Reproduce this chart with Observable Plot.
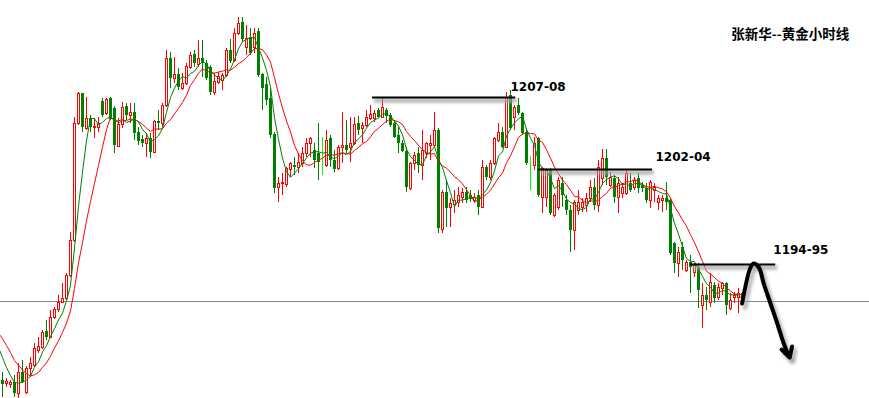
<!DOCTYPE html>
<html><head><meta charset="utf-8">
<script src="https://cdn.jsdelivr.net/npm/d3@7"></script>
<script src="https://cdn.jsdelivr.net/npm/@observablehq/plot@0.6"></script>
<style>html,body{margin:0;padding:0;background:#fff;overflow:hidden}</style>
</head><body><div id="chart"></div>
<script>
// Hourly gold candles (price units)
const open = [
1181.5,1181.2,1181.1,1181.3,1180.2,1182.3,1180.3,1182.7,1183.0,1184.5,
1184.8,1186.4,1185.8,1187.8,1188.6,1189.3,1189.7,1192.0,1195.5,1207.2,
1210.2,1206.7,1207.7,1206.8,1206.8,1209.4,1208.2,1209.7,1208.7,1204.9,
1207.1,1208.9,1208.0,1208.3,1206.3,1205.6,1205.2,1205.7,1204.3,1207.4,
1207.2,1209.0,1213.7,1211.7,1212.1,1210.7,1211.2,1212.8,1214.1,1213.1,
1213.7,1213.2,1212.8,1210.3,1211.3,1211.5,1212.0,1214.5,1213.5,1216.2,
1217.3,1214.8,1215.8,1214.8,1216.4,1212.1,1211.1,1209.7,1206.1,1200.8,
1201.2,1201.1,1202.6,1203.0,1202.8,1203.2,1204.2,1205.2,1204.5,1204.2,
1203.5,1203.0,1205.7,1203.5,1202.7,1204.8,1205.0,1204.8,1205.2,1207.2,
1206.7,1207.0,1207.7,1207.7,1208.5,1207.8,1208.5,1208.0,1207.2,1206.0,
1205.2,1204.4,1200.7,1203.2,1204.2,1203.0,1204.2,1205.0,1205.0,1206.5,
1196.6,1200.3,1198.8,1199.1,1199.3,1199.8,1200.3,1200.0,1199.5,1200.0,
1198.8,1202.8,1201.8,1203.2,1205.5,1206.3,1204.8,1210.0,1207.8,1209.0,
1208.2,1206.3,1202.3,1203.0,1205.7,1199.8,1199.8,1202.5,1198.0,1198.8,
1201.2,1199.5,1198.5,1196.5,1198.5,1198.8,1199.0,1199.7,1200.8,1199.0,
1201.7,1203.7,1201.0,1201.7,1199.8,1200.2,1200.2,1201.2,1200.8,1201.7,
1201.0,1200.7,1199.5,1200.5,1199.3,1199.5,1199.7,1199.5,1195.2,1193.2,
1194.8,1192.5,1193.3,1192.3,1192.8,1189.0,1190.0,1189.3,1191.0,1189.8,
1190.7,1191.2,1188.7,1189.8,1189.8,1190.2];
const high = [
1182.3,1181.7,1181.5,1182.0,1183.2,1183.5,1182.9,1183.8,1185.2,1185.8,
1186.5,1187.5,1188.5,1188.8,1190.0,1191.2,1192.2,1196.3,1207.8,1210.3,
1210.2,1209.8,1208.0,1207.7,1207.8,1209.7,1209.7,1209.8,1208.9,1207.7,
1209.3,1209.2,1209.2,1209.2,1206.8,1206.0,1206.2,1206.2,1207.5,1208.5,
1209.2,1214.5,1214.3,1213.8,1212.7,1212.2,1213.2,1214.3,1214.5,1215.5,
1215.5,1213.5,1213.0,1212.2,1212.3,1212.2,1214.7,1215.6,1216.7,1217.8,
1217.8,1217.0,1216.7,1216.7,1216.7,1212.2,1211.8,1210.7,1206.3,1201.8,
1202.2,1202.8,1203.3,1203.8,1204.2,1204.8,1205.7,1205.8,1205.2,1207.2,
1205.8,1206.5,1206.0,1204.5,1205.0,1208.3,1207.5,1207.8,1207.8,1207.9,
1207.3,1208.5,1209.0,1208.5,1208.7,1209.8,1208.7,1208.2,1207.5,1206.8,
1205.5,1204.8,1203.3,1204.3,1204.8,1206.5,1205.3,1206.0,1208.3,1206.7,
1200.5,1201.5,1199.7,1200.5,1200.8,1200.7,1200.8,1200.5,1200.2,1200.5,
1203.5,1203.0,1203.5,1205.8,1207.2,1206.8,1210.3,1210.5,1209.0,1209.7,
1208.3,1206.7,1203.9,1205.8,1205.8,1202.8,1202.7,1202.7,1200.2,1201.8,
1201.8,1200.0,1199.0,1199.5,1200.5,1199.7,1200.2,1201.5,1201.7,1203.5,
1204.6,1204.6,1202.3,1202.0,1201.8,1201.2,1202.5,1202.2,1201.8,1202.2,
1201.3,1201.2,1201.5,1201.2,1200.0,1200.0,1201.3,1199.7,1195.3,1194.8,
1195.3,1193.5,1194.0,1193.2,1193.2,1191.2,1190.8,1192.2,1191.3,1191.2,
1191.3,1191.3,1190.2,1190.3,1190.7,1190.3];
const low = [
1179.8,1180.8,1180.7,1179.8,1179.7,1181.2,1180.1,1181.8,1182.8,1184.2,
1184.6,1185.5,1185.7,1187.6,1188.3,1189.2,1189.5,1191.8,1195.3,1207.0,
1206.3,1206.5,1206.3,1205.7,1206.3,1207.8,1208.0,1207.5,1204.2,1204.8,
1206.7,1207.5,1207.2,1205.5,1205.0,1204.8,1203.8,1203.7,1204.2,1206.5,
1206.8,1208.8,1210.7,1211.2,1210.5,1210.5,1211.0,1212.6,1212.8,1212.8,
1211.8,1211.5,1210.0,1210.0,1211.1,1210.5,1211.8,1213.2,1213.3,1216.0,
1215.3,1214.0,1214.0,1214.2,1211.8,1208.5,1209.0,1205.7,1200.2,1199.3,
1200.0,1200.8,1201.8,1202.0,1202.2,1202.8,1203.8,1203.8,1202.7,1201.5,
1202.0,1202.8,1202.8,1202.3,1202.5,1203.2,1204.2,1203.3,1205.0,1206.0,
1205.2,1206.8,1207.5,1207.3,1207.7,1207.7,1207.2,1206.8,1205.7,1204.2,
1204.3,1200.3,1200.5,1202.5,1202.2,1201.5,1203.7,1203.5,1204.8,1196.2,
1196.2,1196.8,1196.8,1198.2,1198.8,1199.2,1199.2,1199.3,1199.2,1198.0,
1198.7,1201.5,1201.5,1203.0,1205.3,1204.7,1204.7,1206.5,1206.5,1208.0,
1206.0,1203.0,1200.5,1202.5,1199.8,1198.2,1198.8,1198.0,1197.8,1198.5,
1198.8,1198.0,1194.3,1194.5,1198.0,1198.3,1198.3,1199.3,1198.5,1198.3,
1201.0,1201.0,1200.8,1199.2,1198.2,1199.7,1200.0,1200.3,1200.5,1200.2,
1200.3,1199.2,1198.7,1199.3,1198.5,1198.3,1198.5,1194.0,1192.2,1191.8,
1192.5,1192.3,1190.2,1191.8,1188.7,1186.7,1188.5,1188.8,1189.2,1189.5,
1190.0,1188.0,1188.5,1189.2,1188.2,1189.8];
const close = [
1181.1,1181.4,1181.3,1180.2,1182.3,1181.3,1182.7,1183.2,1184.7,1184.9,
1186.3,1185.8,1187.8,1188.6,1189.3,1189.7,1192.0,1195.5,1207.2,1210.2,
1206.8,1207.7,1206.8,1206.9,1207.2,1208.0,1209.6,1207.6,1205.0,1207.1,
1208.8,1208.0,1208.3,1206.2,1205.4,1205.2,1205.7,1204.3,1207.4,1207.2,
1209.0,1213.7,1211.7,1212.1,1210.8,1211.2,1212.9,1214.0,1213.2,1213.7,
1213.2,1211.7,1210.3,1211.4,1211.9,1212.0,1214.5,1213.4,1216.2,1217.2,
1215.6,1215.7,1214.2,1216.2,1212.0,1210.7,1209.5,1206.0,1200.7,1201.2,
1201.3,1202.7,1203.2,1202.8,1203.3,1204.2,1205.2,1205.7,1203.5,1203.3,
1203.5,1205.5,1203.5,1202.6,1204.8,1205.0,1204.5,1205.2,1207.1,1206.5,
1207.0,1207.8,1208.1,1208.2,1207.8,1208.8,1207.9,1207.0,1205.8,1205.2,
1204.4,1200.8,1203.2,1204.0,1203.0,1204.5,1205.2,1205.2,1206.5,1196.7,
1200.3,1198.7,1199.2,1199.5,1200.0,1200.3,1199.5,1199.6,1199.8,1198.8,
1202.8,1201.8,1203.2,1205.7,1206.3,1204.8,1209.8,1206.7,1208.8,1208.2,
1206.2,1203.2,1202.3,1205.2,1200.0,1202.7,1202.5,1198.2,1200.0,1201.5,
1200.0,1198.5,1196.5,1199.3,1199.3,1199.3,1199.7,1200.8,1199.0,1202.8,
1203.7,1201.8,1201.8,1199.8,1201.2,1200.8,1202.2,1200.5,1201.5,1200.7,
1200.7,1199.5,1201.3,1200.8,1199.7,1199.7,1199.3,1194.2,1193.2,1194.3,
1193.5,1193.3,1192.8,1193.0,1190.5,1190.0,1189.5,1191.3,1189.7,1190.8,
1191.2,1189.0,1189.5,1190.0,1190.2,1189.8];
// closes just before the visible window (seed the moving averages)
const priorCloses = [1188.4,1188.3,1188.2,1187.0,1186.1,1186.4,1185.3,1183.7,1182.5];
const currentPrice = 1189.4;

// resistance annotations
const levelLabels = ["1207-08","1202-04","1194-95"];
const levelPrices = [1209.8, 1202.6, 1193.1];
const levelFrom   = [92.5, 134, 172];
const levelTo     = [128.3, 162.5, 193.3];
const labelIndex  = [127, 163.25, 192.7];
const labelPrices = [1210.8, 1203.85, 1194.5];

// forecast arrow path (bar index, price)
const arrowIndex = [184.9, 187, 187.8, 189.1, 190.3, 192, 193.7, 195.3, 196.6];
const arrowPrice = [1189.2, 1192.8, 1193.2, 1192.8, 1191.2, 1189.2, 1187.2, 1185.2, 1183.9];
const headIndex = [194.75, 196.8, 197.4];
const headPrice = [1184.6, 1183.8, 1184.9];

const title = "张新华--黄金小时线";
const titleIndex = 182.2, titlePrice = 1216.1;

const candles = open.map((o, i) => ({i, open: o, high: high[i], low: low[i], close: close[i]}));
const up = candles.filter(d => d.close > d.open);
const down = candles.filter(d => d.close < d.open);
const doji = candles.filter(d => d.close === d.open);
const series = priorCloses.map((c, k) => ({i: k - priorCloses.length, close: c}))
  .concat(close.map((c, i) => ({i, close: c})));
const levels = levelLabels.map((l, k) => ({label: l, price: levelPrices[k], from: levelFrom[k], to: levelTo[k], li: labelIndex[k], lp: labelPrices[k]}));
const arrow = arrowIndex.map((x, k) => ({i: x, price: arrowPrice[k]}));
const head = headIndex.map((x, k) => ({i: x, price: headPrice[k]}));

const SH = "#a3a3a3";
const crisp = {shapeRendering: "crispEdges"};
const chart = Plot.plot({
  width: 869, height: 398, margin: 0,
  style: {background: "#fff"},
  x: {domain: [-0.5, 216.75], axis: null},
  y: {domain: [1179.7, 1219.5], axis: null},
  marks: [
    Plot.ruleY([currentPrice], {stroke: "#7f8891", strokeWidth: 1, ...crisp}),
    Plot.ruleX(up, {x: "i", y1: "low", y2: "high", stroke: "#ff0000", ...crisp}),
    Plot.ruleX(down, {x: "i", y1: "low", y2: "high", stroke: "#008000", ...crisp}),
    Plot.ruleX(doji, {x: "i", y1: "low", y2: "high", stroke: "#00ff00", ...crisp}),
    Plot.ruleX(down, {x: "i", y1: "open", y2: "close", stroke: "#008000", strokeWidth: 3, ...crisp}),
    Plot.rect(up, {x1: d => d.i - 0.25, x2: d => d.i + 0.25, y1: "open", y2: "close", fill: "#fff", stroke: "#ff0000", ...crisp}),
    Plot.line(series, Plot.windowY({k: 10, anchor: "end"}, {x: "i", y: "close", stroke: "#ff0000", strokeWidth: 1, clip: true})),
    Plot.line(series, Plot.windowY({k: 5, anchor: "end"}, {x: "i", y: "close", stroke: "#008000", strokeWidth: 1, clip: true})),
    // shadows
    Plot.ruleY(levels, {y: "price", x1: "from", x2: "to", stroke: SH, strokeWidth: 5, strokeOpacity: 0.7, dy: 3, dx: 2}),
    Plot.line(arrow, {x: "i", y: "price", curve: "catmull-rom", stroke: SH, strokeWidth: 5, strokeOpacity: 0.7, dx: 3, dy: 4}),
    Plot.line(head, {x: "i", y: "price", stroke: SH, strokeWidth: 5, strokeOpacity: 0.7, dx: 3, dy: 4}),
    // annotations
    Plot.ruleY(levels, {y: "price", x1: "from", x2: "to", stroke: "#000", strokeWidth: 2}),
    Plot.text(levels, {x: "li", y: "lp", text: "label", textAnchor: "start", fontWeight: "bold", fontSize: 12, fontFamily: "DejaVu Sans", fill: "#000"}),
    Plot.line(arrow, {x: "i", y: "price", curve: "catmull-rom", stroke: "#000", strokeWidth: 4}),
    Plot.line(head, {x: "i", y: "price", stroke: "#000", strokeWidth: 4}),
    Plot.text([title], {x: titleIndex, y: titlePrice, text: d => d, textAnchor: "start", fontWeight: "bold", fontSize: 13.5, fontFamily: "Noto Sans CJK SC", fill: "#000"})
  ]
});
// soft blur on the shadow strokes
const ns = "http://www.w3.org/2000/svg";
const defs = document.createElementNS(ns, "defs");
const filt = document.createElementNS(ns, "filter");
filt.setAttribute("id", "shadowBlur");
filt.setAttribute("x", "-20%"); filt.setAttribute("y", "-200%");
filt.setAttribute("width", "140%"); filt.setAttribute("height", "500%");
const blur = document.createElementNS(ns, "feGaussianBlur");
blur.setAttribute("stdDeviation", "1.5");
filt.appendChild(blur); defs.appendChild(filt);
chart.insertBefore(defs, chart.firstChild);
chart.querySelectorAll(`[stroke="${SH}"]`).forEach(g => g.setAttribute("filter", "url(#shadowBlur)"));
document.getElementById("chart").appendChild(chart);
</script>
</body></html>
